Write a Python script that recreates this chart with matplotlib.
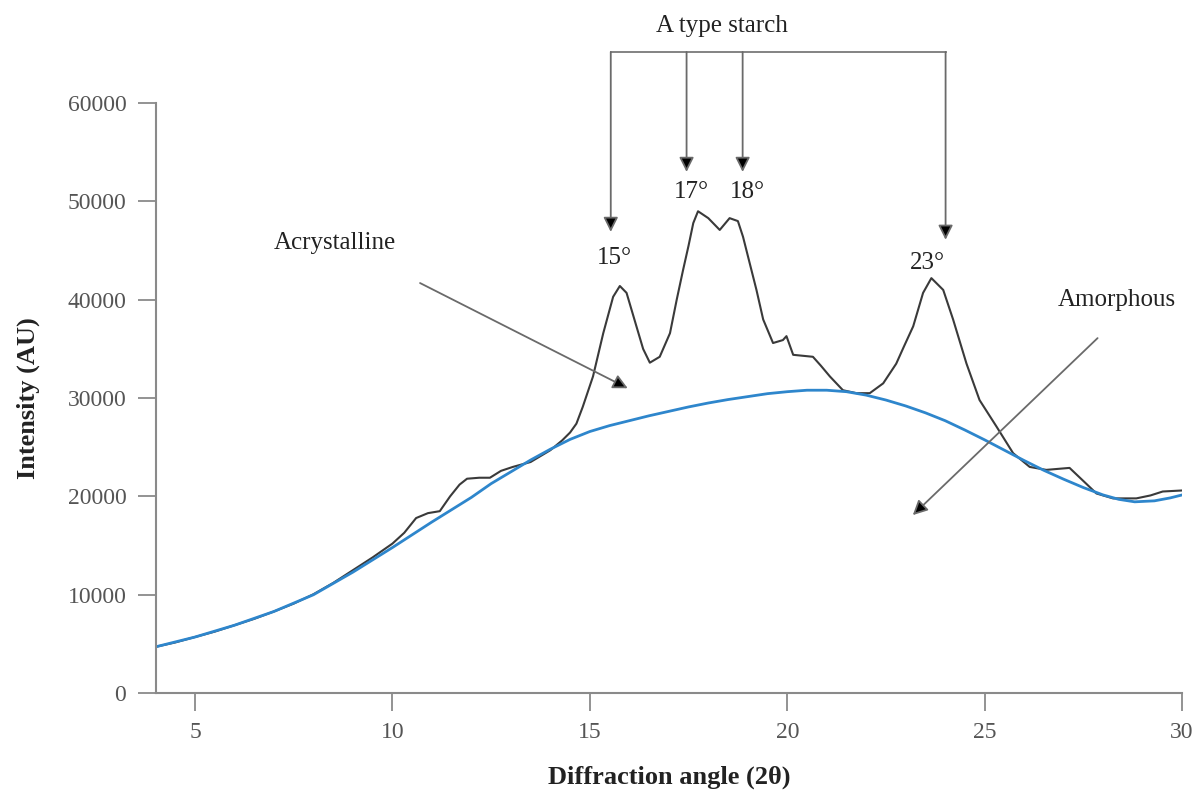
import numpy as np
import matplotlib.pyplot as plt

# diffraction pattern (black)
angle = [4.0, 4.5, 5.0, 5.5, 6.0, 6.5, 7.0, 7.5, 8.0, 8.5, 9.0, 9.5, 10.0, 10.3,
         10.6, 10.9, 11.2, 11.46, 11.7, 11.89, 12.2, 12.47, 12.75, 13.05, 13.5,
         14.0, 14.3, 14.5, 14.66, 14.82, 15.08, 15.34, 15.59, 15.76, 15.93, 16.18,
         16.35, 16.52, 16.77, 17.03, 17.2, 17.36, 17.5, 17.62, 17.74, 18.0, 18.29,
         18.54, 18.75, 18.88, 19.05, 19.22, 19.39, 19.64, 19.89, 19.98, 20.15,
         20.4, 20.65, 20.85, 21.08, 21.41, 21.75, 22.09, 22.43, 22.76, 22.95,
         23.19, 23.44, 23.65, 23.95, 24.2, 24.54, 24.87, 25.3, 25.72, 26.14,
         26.56, 27.15, 27.57, 27.83, 28.25, 28.84, 29.2, 29.51, 29.98]
intensity = [4700, 5150, 5700, 6250, 6900, 7550, 8300, 9100, 10050, 11200, 12500,
             13800, 15200, 16300, 17800, 18300, 18500, 20000, 21200, 21800, 21900,
             21900, 22600, 23000, 23500, 24700, 25700, 26500, 27400, 29100, 32200,
             36600, 40300, 41400, 40700, 37300, 35000, 33600, 34200, 36600, 40000,
             43000, 45500, 47800, 49000, 48300, 47100, 48300, 48000, 46400, 43700,
             41000, 38000, 35600, 35900, 36300, 34400, 34300, 34200, 33300, 32200,
             30800, 30500, 30500, 31500, 33500, 35200, 37300, 40700, 42200, 41000,
             38000, 33500, 29800, 27100, 24400, 23000, 22700, 22900, 21300, 20300,
             19800, 19800, 20100, 20500, 20600]

# amorphous fit (blue)
amorph_angle = [4, 5, 6, 7, 8, 9, 10, 11, 12, 12.5, 13, 13.5, 14, 14.5, 15, 15.5,
                16, 16.5, 17, 17.5, 18, 18.5, 19, 19.5, 20, 20.5, 21, 21.5, 22,
                22.5, 23, 23.5, 24, 24.5, 25, 25.5, 26, 26.5, 27, 27.5, 28, 28.4,
                28.8, 29.3, 29.7, 30]
amorph = [4700, 5700, 6900, 8300, 10000, 12300, 14800, 17400, 19900, 21300, 22500,
          23700, 24800, 25800, 26600, 27200, 27700, 28200, 28650, 29100, 29500,
          29850, 30150, 30450, 30650, 30800, 30800, 30650, 30300, 29800, 29200,
          28500, 27700, 26750, 25750, 24700, 23650, 22650, 21750, 20900, 20150,
          19700, 19450, 19550, 19850, 20150]

# A type starch peaks: (bracket x, arrow tip y, label, label x, label y)
peak_x = [15.53, 17.45, 18.87, 24.01]
peak_tip = [46900, 53000, 53000, 46100]
peak_lbl = ['15°', '17°', '18°', '23°']
peak_lbl_x = [15.63, 17.57, 19.0, 23.56]
peak_lbl_y = [44200, 51000, 51000, 43700]

plt.rcParams['font.family'] = ['Liberation Serif', 'DejaVu Serif']

fig = plt.figure(figsize=(11.99, 7.93), dpi=100)
ax = fig.add_axes([0.1297, 0.126, 0.8562, 0.744])

ax.plot(angle, intensity, color='#3a3a3a', lw=1.5)
ax.plot(amorph_angle, amorph, color='#2e86cc', lw=2.0)

ax.set_xlim(4, 30)
ax.set_ylim(0, 60000)
ax.set_xticks([5, 10, 15, 20, 25, 30])
ax.set_yticks(range(0, 60001, 10000))
for s in ['top', 'right']:
    ax.spines[s].set_visible(False)
for s in ['left', 'bottom']:
    ax.spines[s].set_color('#8a8a8a')
    ax.spines[s].set_linewidth(1.5)
ax.tick_params(direction='out', length=13, width=1.3, color='#8a8a8a',
               labelsize=17, labelcolor='#555555', pad=8)

ax.set_xlabel('Diffraction angle (2θ)', fontsize=19, fontweight='bold',
              color='#222222', labelpad=16)
ax.set_ylabel('Intensity (AU)', fontsize=19, fontweight='bold',
              color='#222222', labelpad=20)

# bracket for the A type peaks
top = 65200
ax.plot([peak_x[0], peak_x[-1]], [top, top], color='#7a7a7a', lw=1.3, clip_on=False)
arrow = dict(arrowstyle='-|>', color='#6a6a6a', fc='black', lw=1.3,
             mutation_scale=22, shrinkA=0, shrinkB=0)
for px, tip in zip(peak_x, peak_tip):
    ax.annotate('', xy=(px, tip), xytext=(px, top), arrowprops=arrow,
                annotation_clip=False)
for lbl, lx, ly in zip(peak_lbl, peak_lbl_x, peak_lbl_y):
    ax.text(lx, ly, lbl, fontsize=18, ha='center', va='center', color='#222222')
ax.text(18.34, 67800, 'A type starch', fontsize=18, ha='center', va='center',
        color='#222222', clip_on=False)

ax.text(8.54, 45800, 'Acrystalline', fontsize=18, ha='center', va='center',
        color='#222222')
ax.annotate('', xy=(15.96, 31000), xytext=(10.7, 41700), arrowprops=arrow)

ax.text(28.34, 40000, 'Amorphous', fontsize=18, ha='center', va='center',
        color='#222222')
ax.annotate('', xy=(23.18, 18100), xytext=(27.86, 36100), arrowprops=arrow)

fig.savefig('out.png', dpi=100)
